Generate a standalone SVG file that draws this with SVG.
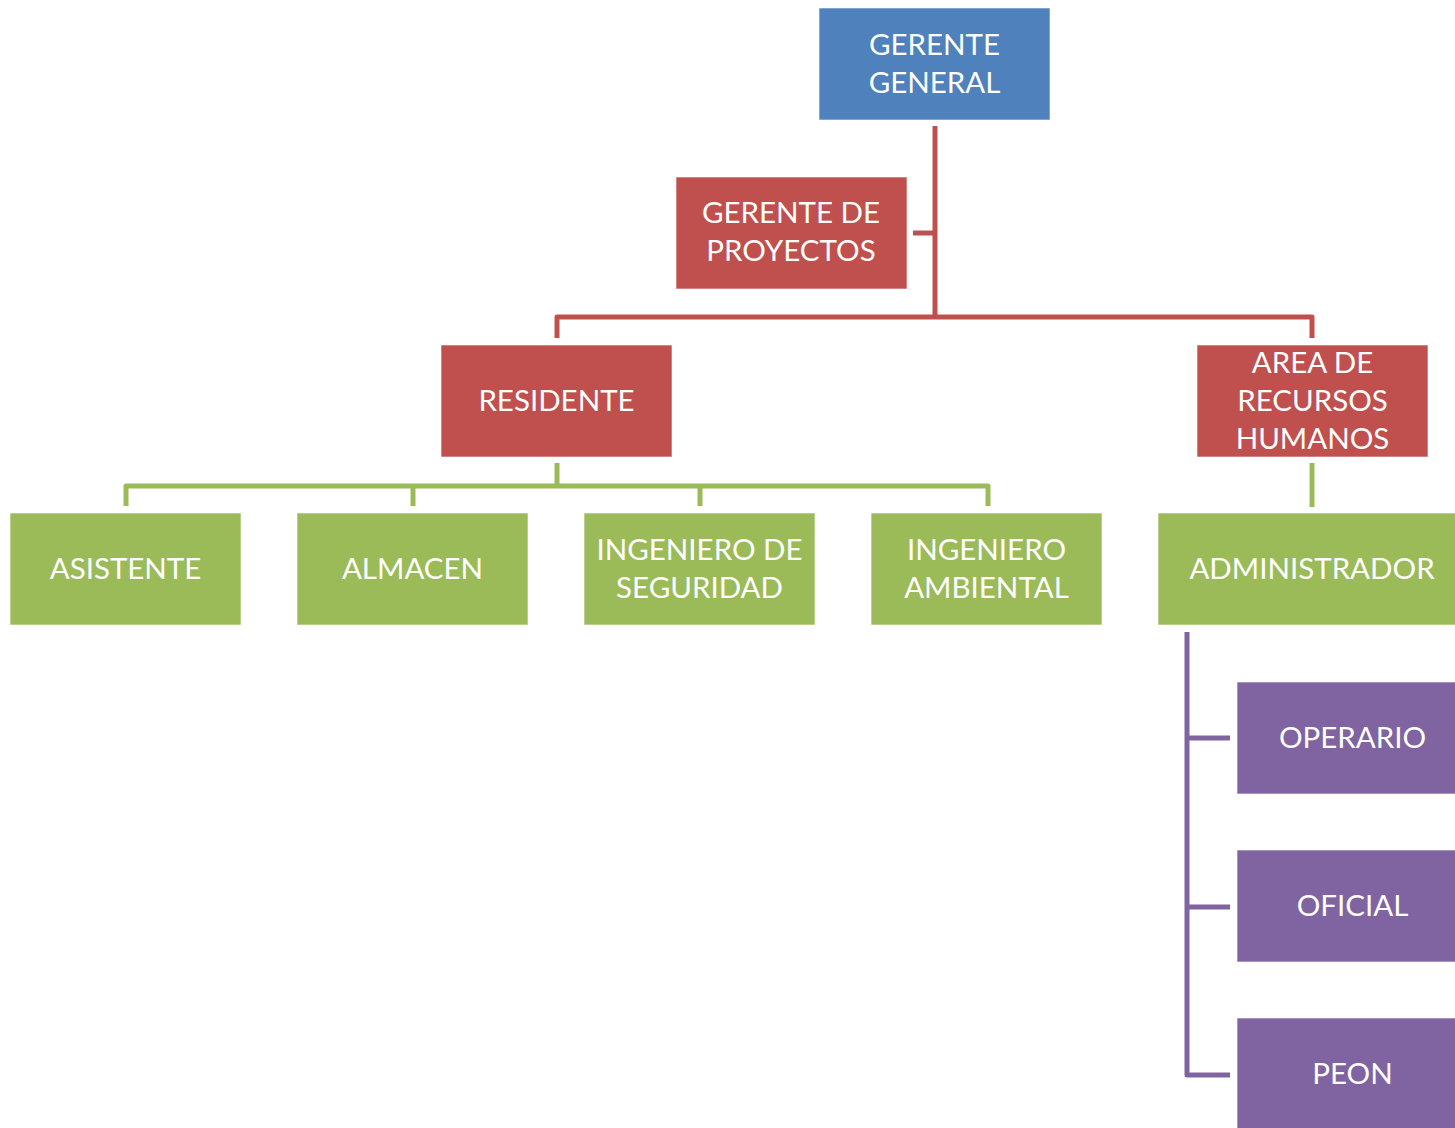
<svg xmlns="http://www.w3.org/2000/svg" width="1455" height="1128" viewBox="0 0 1455 1128">
<style>
.t{font-family:Lato,"Open Sans","Liberation Sans",sans-serif;font-size:29.5px;fill:#fff;text-anchor:middle}
.blue{fill:#4F81BD}.red{fill:#C0504D}.green{fill:#9BBB59}.purple{fill:#8064A2}
.box{stroke:#fff;stroke-width:1;stroke-opacity:0.6}
.c{fill:none;stroke-width:5;stroke-linejoin:round}
.cr{stroke:#C0504D}.cg{stroke:#9BBB59}.cp{stroke:#8064A2}
</style>
<rect width="1455" height="1128" fill="#fff"/>
<g id="connectors">
<path class="c cr" d="M935,126 V317 M557,338 V317 H1312 V338 M913,233 H935"/>
<path class="c cg" d="M557,463 V486 M126,506 V486 H988 V506 M413,486 V506 M700,486 V506 M1312,463 V507"/>
<path class="c cp" d="M1187,632 V1075 H1230 M1187,738 H1230 M1187,907 H1230"/>
</g>
<g id="gerente-general"><rect class="box blue" x="819" y="8" width="231" height="112"/><text class="t" x="934.5" y="55">GERENTE</text><text class="t" x="934.5" y="93">GENERAL</text></g>
<g id="gerente-proyectos"><rect class="box red" x="676" y="177" width="231" height="112"/><text class="t" x="791" y="223">GERENTE DE</text><text class="t" x="791" y="261">PROYECTOS</text></g>
<g id="residente"><rect class="box red" x="441" y="345" width="231" height="112"/><text class="t" x="556.5" y="411">RESIDENTE</text></g>
<g id="rrhh"><rect class="box red" x="1197" y="345" width="231" height="112"/><text class="t" x="1312.5" y="373">AREA DE</text><text class="t" x="1312.5" y="411">RECURSOS</text><text class="t" x="1312.5" y="449">HUMANOS</text></g>
<g id="asistente"><rect class="box green" x="10" y="513" width="231" height="112"/><text class="t" x="125.5" y="579">ASISTENTE</text></g>
<g id="almacen"><rect class="box green" x="297" y="513" width="231" height="112"/><text class="t" x="412.5" y="579">ALMACEN</text></g>
<g id="ing-seguridad"><rect class="box green" x="584" y="513" width="231" height="112"/><text class="t" x="699.5" y="560">INGENIERO DE</text><text class="t" x="699.5" y="598">SEGURIDAD</text></g>
<g id="ing-ambiental"><rect class="box green" x="871" y="513" width="231" height="112"/><text class="t" x="986.5" y="560">INGENIERO</text><text class="t" x="986.5" y="598">AMBIENTAL</text></g>
<g id="administrador"><rect class="box green" x="1158" y="513" width="308" height="112"/><text class="t" x="1312" y="579">ADMINISTRADOR</text></g>
<g id="operario"><rect class="box purple" x="1237" y="682" width="231" height="112"/><text class="t" x="1352.5" y="748">OPERARIO</text></g>
<g id="oficial"><rect class="box purple" x="1237" y="850" width="231" height="112"/><text class="t" x="1352.5" y="916">OFICIAL</text></g>
<g id="peon"><rect class="box purple" x="1237" y="1018" width="231" height="112"/><text class="t" x="1352.5" y="1084">PEON</text></g>
</svg>
